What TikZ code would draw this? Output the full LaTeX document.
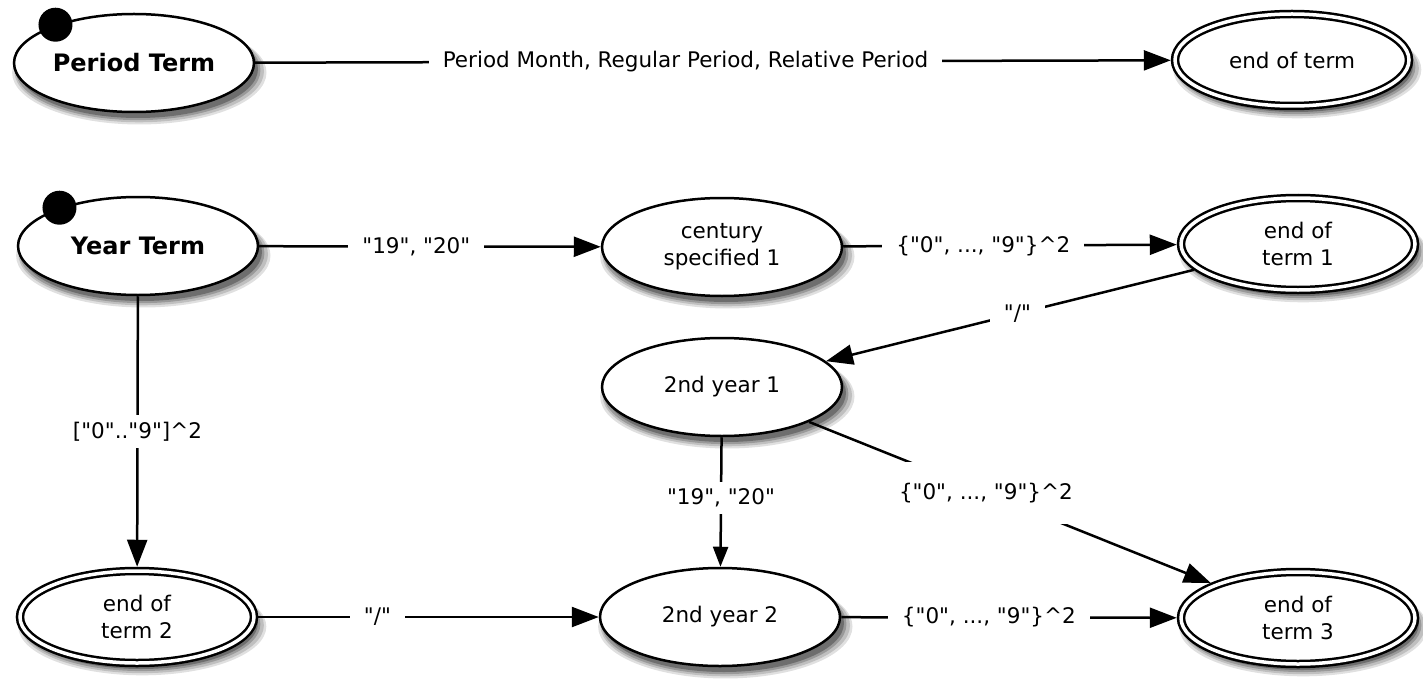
\documentclass[tikz,border=0pt]{standalone}
\usepackage{fontspec}
\setmainfont{DejaVu Sans}[Ligatures=TeXOff]
\usetikzlibrary{shapes.geometric,arrows.meta,shadows}

\newcommand{\statefont}{\fontsize{21.5}{27}\selectfont}
\newcommand{\namefont}{\fontsize{24}{28}\selectfont\bfseries}

\tikzset{
  softshadow/.style={
    general shadow={fill=black, opacity=0.12, shadow xshift=5pt, shadow yshift=-9pt, shadow scale=1.06},
    general shadow={fill=black, opacity=0.15, shadow xshift=5pt, shadow yshift=-8pt, shadow scale=1.04},
    general shadow={fill=black, opacity=0.20, shadow xshift=4pt, shadow yshift=-7pt, shadow scale=1.02},
    general shadow={fill=black, opacity=0.28, shadow xshift=4pt, shadow yshift=-6pt, shadow scale=1.00}},
  state/.style={ellipse, draw, line width=2.5pt, fill=white, align=center,
    minimum width=240pt, minimum height=98pt, inner sep=0pt, font=\statefont, softshadow},
  final/.style={state, double, double distance=3.5pt,
    minimum width=234pt, minimum height=92pt, outer sep=4.25pt},
  startdot/.style={circle, fill=black, minimum size=34pt, inner sep=0pt},
  edge/.style={line width=2.5pt, -{Triangle[length=27pt,width=20pt]}},
  smalledge/.style={line width=2.5pt, -{Triangle[length=20pt,width=15pt]}},
  lbl/.style={fill=white, font=\statefont, inner xsep=14pt, inner ysep=7pt}
}

\begin{document}
\begin{tikzpicture}[x=1pt,y=-1pt]
  \useasboundingbox (0,0) rectangle (1423,679);
  % states
  \node[state, font=\namefont] (period) at (134,63) {Period Term};
  \node[final] (endterm) at (1292,60) {end of term};
  \node[state, font=\namefont] (year) at (138,246) {Year Term};
  \node[state] (century) at (722,247) {century\\specified 1};
  \node[final] (end1) at (1298,244) {end of\\term 1};
  \node[state] (second1) at (722,387) {2nd year 1};
  \node[final] (end2) at (137,617) {end of\\term 2};
  \node[state] (second2) at (720,617) {2nd year 2};
  \node[final] (end3) at (1298,618) {end of\\term 3};
  % start markers
  \node[startdot] (periodstart) at (period.154) {};
  \node[startdot] (yearstart) at (year.154) {};
  % transitions
  \draw[edge] (period) -- node[lbl, pos=0.47] {Period Month, Regular Period, Relative Period} (endterm);
  \draw[edge] (year) -- node[lbl, pos=0.46] {"19", "20"} (century);
  \draw[edge] (century) -- node[lbl, pos=0.42] {\{"0", ..., "9"\}\textasciicircum 2} (end1);
  \draw[edge] (end1) -- node[lbl, pos=0.48] {"/"} (second1);
  \draw[edge] (year) -- node[lbl, pos=0.5] {["0".."9"]\textasciicircum 2} (end2);
  \draw[smalledge] (second1) -- node[lbl, pos=0.47] {"19", "20"} (second2);
  \draw[edge] (second1) -- node[lbl, pos=0.44, inner xsep=2pt, inner ysep=21pt] {\{"0", ..., "9"\}\textasciicircum 2} (end3);
  \draw[edge] (end2) -- node[lbl, pos=0.35] {"/"} (second2);
  \draw[edge] (second2) -- node[lbl, pos=0.44] {\{"0", ..., "9"\}\textasciicircum 2} (end3);
\end{tikzpicture}
\end{document}
